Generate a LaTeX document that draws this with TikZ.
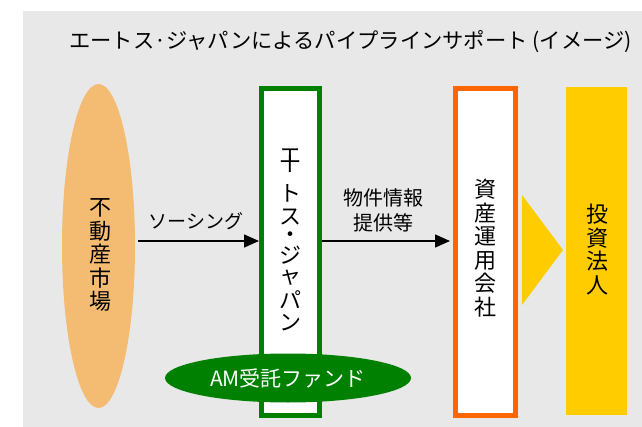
\documentclass[tikz,border=0pt]{standalone}
\usepackage{fontspec}
\setmainfont{Noto Sans CJK JP}
\newfontfamily\jpvert[RawFeature=+vert]{Noto Sans CJK JP}
\usetikzlibrary{shapes.geometric,arrows.meta}
\definecolor{bg}{HTML}{E8E8E8}
\definecolor{mkt}{HTML}{F4BC73}
\definecolor{grn}{HTML}{008000}
\definecolor{org}{HTML}{FF6600}
\definecolor{yel}{HTML}{FFCC00}
\begin{document}
\begin{tikzpicture}[x=1pt,y=-1pt,
  arr/.style={line width=1.6pt,-{Triangle[length=15pt,width=13pt]}},
  vtext/.style={align=center,font=\fontsize{22pt}{23.5pt}\selectfont,inner sep=0pt},
  vch/.style={font=\fontsize{22pt}{23.5pt}\selectfont,inner sep=0pt},
  lbl/.style={align=center,font=\fontsize{19pt}{25pt}\selectfont,inner sep=0pt},
  titlestyle/.style={font=\fontsize{21.3pt}{25pt}\selectfont,inner sep=0pt,anchor=west}]
\useasboundingbox (0,0) rectangle (642,427);
\fill[bg] (23,11) rectangle (642,427);
\node[titlestyle] (title) at (69,42) {エートス·ジャパンによるパイプラインサポート (イメージ)};
% market
\node[ellipse,fill=mkt,minimum width=73pt,minimum height=324pt,inner sep=0pt] (mkt) at (98.5,246) {};
\node[vtext] (mktt) at (100,255) {不\\動\\産\\市\\場};
% ethos japan box
\node[draw=grn,line width=5pt,fill=white,minimum width=58pt,minimum height=327pt,inner sep=0pt] (ej) at (290.5,252) {};
\foreach \y/\c [count=\i] in {156/エ,193/ト,217/ス,237/・,255/ジ,278/ャ,300/パ,323/ン}
  \node[vch] (ej\i) at (290,\y) {\c};
\node[vch,font=\jpvert\fontsize{22pt}{23.5pt}\selectfont] (ejbar) at (290,164) {ー};
\node[ellipse,fill=grn,minimum width=246pt,minimum height=49pt,inner sep=0pt,text=white,
  font=\fontsize{21pt}{24pt}\selectfont] (fund) at (288,378) {AM受託ファンド};
% asset management company
\node[draw=org,line width=5pt,fill=white,minimum width=60pt,minimum height=327pt,inner sep=0pt] (am) at (485.5,252) {};
\node[vtext] (amt) at (485,248) {資\\産\\運\\用\\会\\社};
% investment corporation
\fill[yel] (522,195) -- (563,250) -- (522,305) -- cycle;
\node[fill=yel,minimum width=61pt,minimum height=328pt,inner sep=0pt] (inv) at (596.5,251) {};
\node[vtext] (invt) at (597,249.5) {投\\資\\法\\人};
% arrows
\draw[arr,shorten <=3pt] ([yshift=5pt]mkt.east) -- ([yshift=11pt]ej.west);
\draw[arr,shorten >=3pt] ([yshift=11pt]ej.east) -- ([yshift=11pt]am.west);
\node[lbl] (src) at (196,221) {ソーシング};
\node[lbl,font=\fontsize{20pt}{25pt}\selectfont] (info) at (383,210) {物件情報\\提供等};
\end{tikzpicture}
\end{document}
